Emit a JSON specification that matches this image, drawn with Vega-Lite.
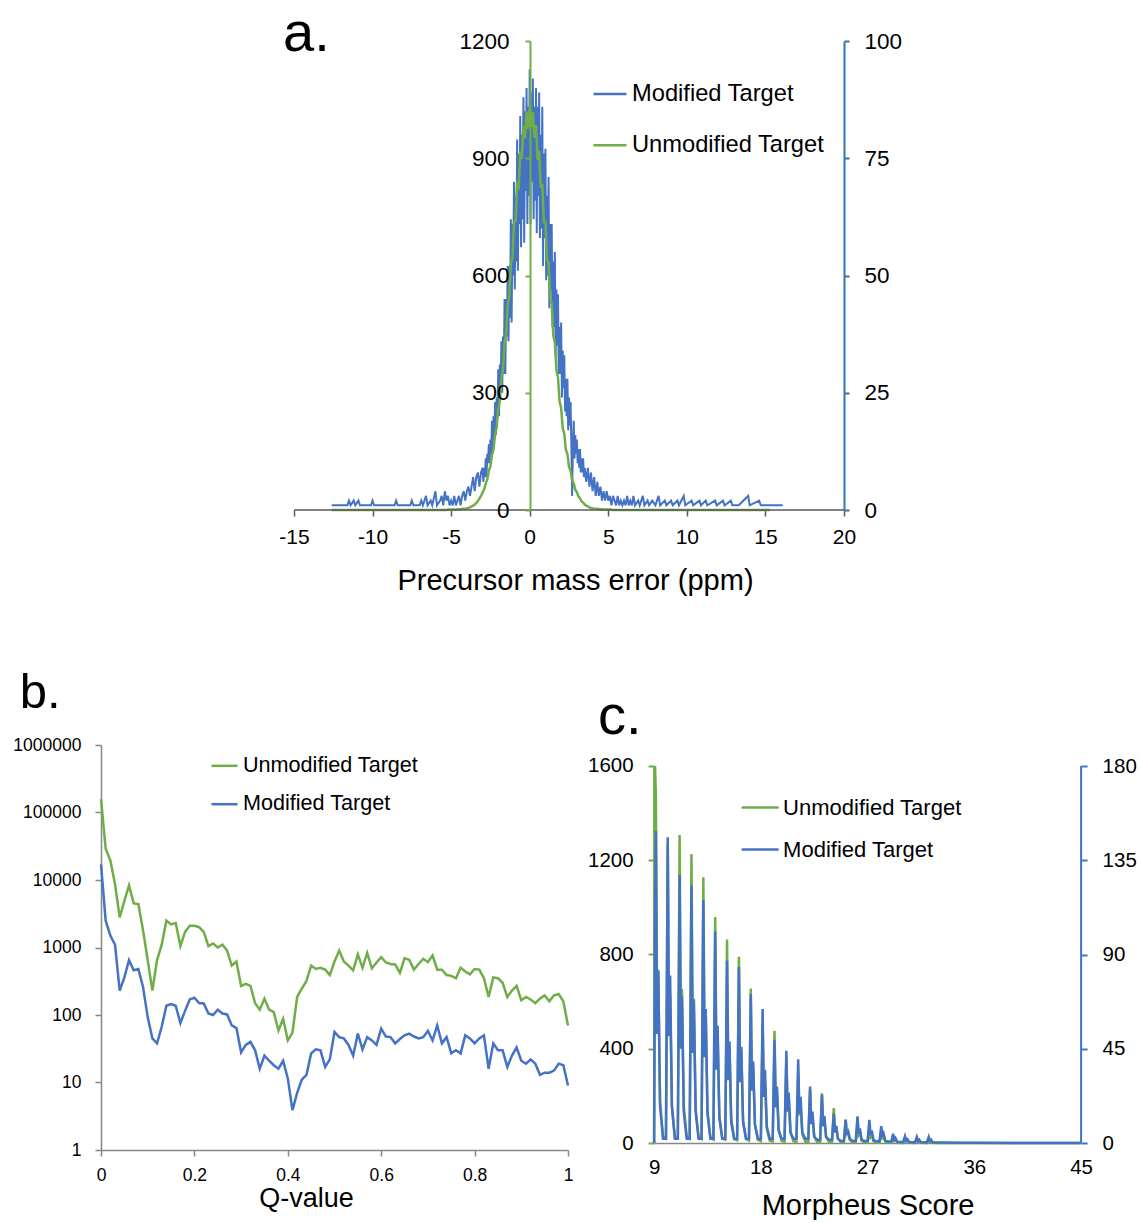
{
  "padding": {"left": 12, "top": 6, "right": 0, "bottom": 0},
  "background": "white",
  "config": {
    "locale": {"number": {"decimal": ".", "thousands": ",", "grouping": [3], "currency": ["$", ""], "minus": "-"}},
    "view": {"stroke": null},
    "font": "Liberation Sans",
    "axis": {"grid": false, "labelFont": "Liberation Sans", "titleFont": "Liberation Sans", "labelColor": "black", "titleColor": "black", "titleFontWeight": "normal"},
    "legend": {"labelFont": "Liberation Sans", "labelColor": "black", "labelLimit": 400},
    "title": {"font": "Liberation Sans", "fontWeight": "normal", "color": "black"}
  },
  "spacing": 74,
  "resolve": {"scale": {"color": "independent"}, "legend": {"color": "independent"}},
  "vconcat": [
    {
      "width": 743,
      "height": 469,
      "title": {"text": "a.", "anchor": "start", "frame": "group", "dx": 182, "fontSize": 56, "offset": -33.25},
      "data": {"values": [
        {"x":-12.6,"u":0,"m":1},{"x":-11.6,"u":0,"m":1},{"x":-11.5,"u":0,"m":2},{"x":-11.4,"u":0,"m":1},{"x":-11.2,"u":0,"m":2},{"x":-11.1,"u":0,"m":1},{"x":-10.9,"u":0,"m":2},{"x":-10.8,"u":0,"m":1},{"x":-10.1,"u":0,"m":1},{"x":-10,"u":0,"m":2},{"x":-9.9,"u":0,"m":1},{"x":-8.6,"u":0,"m":1},{"x":-8.5,"u":0,"m":2},{"x":-8.4,"u":0,"m":1},{"x":-7.6,"u":0,"m":1},{"x":-7.5,"u":0,"m":2},{"x":-7.4,"u":0,"m":1},{"x":-7,"u":0,"m":1},{"x":-6.9,"u":0,"m":2},{"x":-6.8,"u":0,"m":1},{"x":-6.6,"u":0,"m":3},{"x":-6.5,"u":0,"m":1},{"x":-6.3,"u":0,"m":2},{"x":-6.2,"u":0,"m":1},{"x":-6,"u":0,"m":4},{"x":-5.9,"u":0,"m":1},{"x":-5.7,"u":0,"m":2},{"x":-5.6,"u":0,"m":3},{"x":-5.5,"u":0,"m":1},{"x":-5.4,"u":0,"m":4},{"x":-5.3,"u":0,"m":2},{"x":-5.2,"u":1,"m":3},{"x":-5.1,"u":1,"m":1},
        {"x":-5,"u":1,"m":2},{"x":-4.9,"u":1,"m":1},{"x":-4.8,"u":1,"m":3},{"x":-4.7,"u":1,"m":1},{"x":-4.6,"u":2,"m":2},{"x":-4.5,"u":2,"m":3},{"x":-4.4,"u":2,"m":1},{"x":-4.3,"u":3,"m":3},{"x":-4.2,"u":3,"m":4},{"x":-4.1,"u":3,"m":2},
        {"x":-4,"u":4,"m":4},{"x":-3.9,"u":5,"m":5},{"x":-3.8,"u":7,"m":3},{"x":-3.7,"u":9,"m":5},{"x":-3.6,"u":11,"m":7},{"x":-3.5,"u":14,"m":4},{"x":-3.4,"u":18,"m":7},{"x":-3.3,"u":23,"m":8},{"x":-3.2,"u":29,"m":5},{"x":-3.1,"u":36,"m":8},
        {"x":-3,"u":45,"m":9},{"x":-2.95,"m":6},{"x":-2.9,"u":53,"m":9},{"x":-2.85,"m":7},{"x":-2.8,"u":67,"m":11},{"x":-2.75,"m":7},{"x":-2.7,"u":78,"m":12},{"x":-2.65,"m":10},{"x":-2.6,"u":100,"m":14},{"x":-2.55,"m":10},
        {"x":-2.5,"u":112,"m":15},{"x":-2.45,"m":12},{"x":-2.4,"u":141,"m":19},{"x":-2.35,"m":12},{"x":-2.3,"u":156,"m":20},{"x":-2.25,"m":16},{"x":-2.2,"u":194,"m":23},{"x":-2.15,"m":16},{"x":-2.1,"u":212,"m":24},{"x":-2.05,"m":20},
        {"x":-2,"u":260,"m":30},{"x":-1.95,"m":20},{"x":-1.9,"u":280,"m":31},{"x":-1.85,"m":25},{"x":-1.8,"u":338,"m":36},{"x":-1.75,"m":25},{"x":-1.7,"u":360,"m":37},{"x":-1.65,"m":29},{"x":-1.6,"u":427,"m":45},{"x":-1.55,"m":29},
        {"x":-1.5,"u":449,"m":45},{"x":-1.45,"m":37},{"x":-1.4,"u":526,"m":52},{"x":-1.35,"m":36},{"x":-1.3,"u":544,"m":52},{"x":-1.25,"m":41},{"x":-1.2,"u":631,"m":62},{"x":-1.15,"m":40},{"x":-1.1,"u":644,"m":61},{"x":-1.05,"m":50},
        {"x":-1,"u":735,"m":70},{"x":-0.95,"m":47},{"x":-0.9,"u":739,"m":67},{"x":-0.85,"m":53},{"x":-0.8,"u":833,"m":79},{"x":-0.75,"m":51},{"x":-0.7,"u":826,"m":76},{"x":-0.65,"m":61},{"x":-0.6,"u":917,"m":84},{"x":-0.55,"m":56},
        {"x":-0.5,"u":898,"m":80},{"x":-0.45,"m":62},{"x":-0.4,"u":983,"m":88},{"x":-0.35,"m":57},{"x":-0.3,"u":950,"m":85},{"x":-0.25,"m":68},{"x":-0.2,"u":1020,"m":90},{"x":-0.15,"m":61},{"x":-0.1,"u":976,"m":86},{"x":-0.05,"m":67},
        {"x":0,"u":1030,"m":94},{"x":0.05,"m":61},{"x":0.1,"u":980,"m":89},{"x":0.15,"m":70},{"x":0.2,"u":1018,"m":92},{"x":0.25,"m":62},{"x":0.3,"u":952,"m":86},{"x":0.35,"m":66},{"x":0.4,"u":985,"m":90},{"x":0.45,"m":59},
        {"x":0.5,"u":896,"m":86},{"x":0.55,"m":67},{"x":0.6,"u":919,"m":89},{"x":0.65,"m":58},{"x":0.7,"u":824,"m":80},{"x":0.75,"m":60},{"x":0.8,"u":835,"m":86},{"x":0.85,"m":52},{"x":0.9,"u":737,"m":76},{"x":0.95,"m":58},
        {"x":1,"u":737,"m":77},{"x":1.05,"m":49},{"x":1.1,"u":642,"m":67},{"x":1.15,"m":50},{"x":1.2,"u":633,"m":71},{"x":1.25,"m":43},{"x":1.3,"u":542,"m":61},{"x":1.35,"m":47},{"x":1.4,"u":528,"m":61},{"x":1.45,"m":39},
        {"x":1.5,"u":447,"m":53},{"x":1.55,"m":39},{"x":1.6,"u":429,"m":55},{"x":1.65,"m":33},{"x":1.7,"u":358,"m":47},{"x":1.75,"m":35},{"x":1.8,"u":340,"m":46},{"x":1.85,"m":29},{"x":1.9,"u":278,"m":39},{"x":1.95,"m":29},
        {"x":2,"u":262,"m":40},{"x":2.05,"m":24},{"x":2.1,"u":210,"m":34},{"x":2.15,"m":26},{"x":2.2,"u":196,"m":33},{"x":2.25,"m":21},{"x":2.3,"u":154,"m":28},{"x":2.35,"m":20},{"x":2.4,"u":143,"m":28},{"x":2.45,"m":17},
        {"x":2.5,"u":110,"m":24},{"x":2.55,"m":18},{"x":2.6,"u":101,"m":23},{"x":2.65,"m":14},{"x":2.7,"u":77,"m":3},{"x":2.75,"m":14},{"x":2.8,"u":68,"m":19},{"x":2.85,"m":11},{"x":2.9,"u":52,"m":16},{"x":2.95,"m":12},
        {"x":3,"u":46,"m":15},{"x":3.05,"m":10},{"x":3.1,"u":35,"m":13},{"x":3.15,"m":9},{"x":3.2,"u":30,"m":13},{"x":3.25,"m":8},{"x":3.3,"u":22,"m":11},{"x":3.35,"m":8},{"x":3.4,"u":19,"m":11},{"x":3.45,"m":7},{"x":3.5,"u":14,"m":9},
        {"x":3.6,"u":11,"m":6},{"x":3.7,"u":9,"m":9},{"x":3.8,"u":7,"m":5},{"x":3.9,"u":5,"m":8},{"x":4,"u":4,"m":4},{"x":4.1,"u":3,"m":7},{"x":4.2,"u":3,"m":3},{"x":4.3,"u":3,"m":6},{"x":4.4,"u":2,"m":3},{"x":4.5,"u":2,"m":5},
        {"x":4.6,"u":2,"m":2},{"x":4.7,"u":1,"m":4},{"x":4.8,"u":1,"m":2},{"x":4.9,"u":1,"m":4},{"x":5,"u":1,"m":2},{"x":5.1,"u":1,"m":3},{"x":5.2,"u":1,"m":1},{"x":5.3,"u":0,"m":3},{"x":5.4,"u":0,"m":2},{"x":5.5,"u":0,"m":1},
        {"x":5.6,"u":0,"m":3},{"x":5.7,"u":0,"m":1},{"x":5.8,"u":0,"m":2},{"x":5.9,"u":0,"m":1},{"x":6,"u":0,"m":2},
        {"x":6.1,"u":0,"m":1},{"x":6.2,"u":0,"m":3},{"x":6.3,"u":0,"m":1},{"x":6.4,"u":0,"m":2},{"x":6.5,"u":0,"m":1},{"x":6.6,"u":0,"m":3},{"x":6.7,"u":0,"m":1},{"x":6.9,"u":0,"m":2},{"x":7,"u":0,"m":1},{"x":7.2,"u":0,"m":3},{"x":7.3,"u":0,"m":1},{"x":7.5,"u":0,"m":2},{"x":7.6,"u":0,"m":1},{"x":7.8,"u":0,"m":2},{"x":8,"u":0,"m":1},{"x":8.2,"u":0,"m":3},{"x":8.3,"u":0,"m":1},{"x":8.6,"u":0,"m":2},{"x":8.7,"u":0,"m":1},{"x":9,"u":0,"m":2},{"x":9.1,"u":0,"m":1},{"x":9.4,"u":0,"m":2},{"x":9.5,"u":0,"m":1},{"x":9.8,"u":0,"m":3},{"x":9.9,"u":0,"m":1},{"x":10.3,"u":0,"m":2},{"x":10.4,"u":0,"m":1},{"x":10.8,"u":0,"m":2},{"x":10.9,"u":0,"m":1},{"x":11.2,"u":0,"m":2},{"x":11.3,"u":0,"m":1},{"x":11.8,"u":0,"m":2},{"x":11.9,"u":0,"m":1},{"x":12.3,"u":0,"m":2},{"x":12.4,"u":0,"m":1},{"x":12.8,"u":0,"m":2},{"x":12.9,"u":0,"m":1},{"x":13.3,"u":0,"m":1},{"x":13.9,"u":0,"m":3},{"x":14,"u":0,"m":1},{"x":14.6,"u":0,"m":2},{"x":14.7,"u":0,"m":1},{"x":15.3,"u":0,"m":1},{"x":16.1,"m":1}
      ]},
      "encoding": {
        "x": {"field": "x", "type": "quantitative", "scale": {"domain": [-27.28, 20], "nice": false, "zero": false},
          "axis": {"values": [-15,-10,-5,0,5,10,15,20], "format": "d", "domain": false, "tickColor": "#595959", "tickWidth": 1.5, "tickSize": 6, "labelFontSize": 21, "labelPadding": 10, "labelFlush": false, "labelOverlap": false, "title": "Precursor mass error (ppm)", "titleFontSize": 29, "titleX": 474, "titlePadding": 19, "grid": false}}
      },
      "layer": [
        {
          "mark": {"type": "line", "strokeWidth": 2, "invalid": "filter"},
          "encoding": {
            "y": {"field": "m", "type": "quantitative", "scale": {"domain": [0, 100], "nice": false},
              "axis": {"orient": "right", "values": [0,25,50,75,100], "format": "d", "domainColor": "#2E75B6", "domainWidth": 2, "tickColor": "#2E75B6", "tickWidth": 2, "tickSize": 5, "labelFontSize": 22.5, "labelPadding": 15, "labelFlush": false, "labelOverlap": false, "title": null, "grid": false}},
            "color": {"datum": "Modified Target", "scale": {"domain": ["Modified Target", "Unmodified Target"], "range": ["#4472C4", "#70AD47"]},
              "legend": {"orient": "none", "legendX": 491, "legendY": 35, "title": null, "symbolType": "stroke", "symbolSize": 1089, "symbolStrokeWidth": 2.5, "labelFontSize": 23.7, "labelOffset": 4, "rowPadding": 21.2, "padding": 0}}
          }
        },
        {
          "layer": [
            {
              "mark": {"type": "line", "strokeWidth": 2.5, "invalid": "filter"},
              "encoding": {
                "y": {"field": "u", "type": "quantitative", "scale": {"domain": [0, 1200], "nice": false},
                  "axis": {"orient": "left", "offset": -429, "values": [0,300,600,900,1200], "format": "d", "domainColor": "#70AD47", "domainWidth": 2, "tickColor": "#70AD47", "tickWidth": 2, "tickSize": 5, "labelFontSize": 22.5, "labelPadding": 16, "labelFlush": false, "labelOverlap": false, "title": null, "grid": false, "zindex": 1}},
                "color": {"datum": "Unmodified Target"}
              }
            },
            {
              "data": {"values": [{"x": -15, "xe": 20, "u": 0}]},
              "mark": {"type": "rule", "color": "#595959", "strokeWidth": 1.5},
              "encoding": {"x2": {"field": "xe"}, "y": {"field": "u", "type": "quantitative"}}
            }
          ]
        }
      ],
      "resolve": {"scale": {"y": "independent"}}
    },
    {
      "spacing": 14.1,
      "resolve": {"scale": {"color": "independent"}, "legend": {"color": "independent"}},
      "hconcat": [
        {
          "width": 467,
          "height": 405,
          "title": {"text": "b.", "anchor": "start", "frame": "bounds", "dx": 7, "fontSize": 49, "offset": 18},
          "data": {"values": [
            {"q":0,"u":158000,"m":17000},{"q":0.01,"u":29000,"m":2500},{"q":0.02,"u":19500,"m":1500},{"q":0.03,"u":8700,"m":1100},{"q":0.04,"u":2800,"m":230},{"q":0.05,"u":4900,"m":360},{"q":0.06,"u":8300,"m":650},{"q":0.07,"u":4500,"m":460},{"q":0.08,"u":4400,"m":480},{"q":0.09,"u":1800,"m":260},
            {"q":0.1,"u":650,"m":93},{"q":0.11,"u":230,"m":45},{"q":0.12,"u":650,"m":38},{"q":0.13,"u":1100,"m":67},{"q":0.14,"u":2500,"m":137},{"q":0.15,"u":2200,"m":145},{"q":0.16,"u":2300,"m":137},{"q":0.17,"u":1050,"m":76},{"q":0.18,"u":1700,"m":115},{"q":0.19,"u":2100,"m":170},
            {"q":0.2,"u":2100,"m":180},{"q":0.21,"u":2000,"m":150},{"q":0.22,"u":1700,"m":148},{"q":0.23,"u":1050,"m":105},{"q":0.24,"u":1150,"m":100},{"q":0.25,"u":1000,"m":120},{"q":0.26,"u":1100,"m":105},{"q":0.27,"u":900,"m":102},{"q":0.28,"u":540,"m":70},{"q":0.29,"u":620,"m":64},
            {"q":0.3,"u":270,"m":28},{"q":0.31,"u":290,"m":36},{"q":0.32,"u":270,"m":40},{"q":0.33,"u":150,"m":30},{"q":0.34,"u":120,"m":16},{"q":0.35,"u":175,"m":25},{"q":0.36,"u":120,"m":21},{"q":0.37,"u":110,"m":18},{"q":0.38,"u":59,"m":16},{"q":0.39,"u":88,"m":21},
            {"q":0.4,"u":42,"m":11.5},{"q":0.41,"u":55,"m":3.9},{"q":0.42,"u":185,"m":7},{"q":0.43,"u":245,"m":11},{"q":0.44,"u":320,"m":13},{"q":0.45,"u":540,"m":27},{"q":0.46,"u":480,"m":31},{"q":0.47,"u":500,"m":30},{"q":0.48,"u":470,"m":17},{"q":0.49,"u":390,"m":22},
            {"q":0.5,"u":620,"m":56},{"q":0.51,"u":900,"m":47},{"q":0.52,"u":620,"m":45},{"q":0.53,"u":540,"m":36},{"q":0.54,"u":460,"m":25},{"q":0.55,"u":790,"m":53},{"q":0.56,"u":500,"m":31},{"q":0.57,"u":830,"m":47},{"q":0.58,"u":490,"m":42},{"q":0.59,"u":600,"m":36},
            {"q":0.6,"u":720,"m":63},{"q":0.61,"u":600,"m":48},{"q":0.62,"u":570,"m":47},{"q":0.63,"u":560,"m":38},{"q":0.64,"u":420,"m":44},{"q":0.65,"u":690,"m":50},{"q":0.66,"u":660,"m":53},{"q":0.67,"u":470,"m":48},{"q":0.68,"u":570,"m":45},{"q":0.69,"u":680,"m":47},
            {"q":0.7,"u":610,"m":58},{"q":0.71,"u":760,"m":42},{"q":0.72,"u":470,"m":70},{"q":0.73,"u":470,"m":38},{"q":0.74,"u":390,"m":47},{"q":0.75,"u":380,"m":27},{"q":0.76,"u":350,"m":30},{"q":0.77,"u":500,"m":27},{"q":0.78,"u":440,"m":50},{"q":0.79,"u":400,"m":45},
            {"q":0.8,"u":480,"m":38},{"q":0.81,"u":470,"m":45},{"q":0.82,"u":350,"m":50},{"q":0.83,"u":185,"m":16},{"q":0.84,"u":360,"m":38},{"q":0.85,"u":350,"m":30},{"q":0.86,"u":300,"m":30},{"q":0.87,"u":185,"m":17},{"q":0.88,"u":230,"m":25},{"q":0.89,"u":270,"m":33},
            {"q":0.9,"u":165,"m":21},{"q":0.91,"u":185,"m":19},{"q":0.92,"u":170,"m":22},{"q":0.93,"u":150,"m":19},{"q":0.94,"u":175,"m":13},{"q":0.95,"u":195,"m":14},{"q":0.96,"u":160,"m":14},{"q":0.97,"u":195,"m":15},{"q":0.98,"u":205,"m":19},{"q":0.99,"u":160,"m":18},{"q":1,"u":70,"m":9}
          ]},
          "encoding": {
            "x": {"field": "q", "type": "quantitative", "scale": {"domain": [0, 1], "nice": false},
              "axis": {"values": [0,0.2,0.4,0.6,0.8,1], "format": "~g", "domainColor": "#868686", "domainWidth": 1.5, "tickColor": "#868686", "tickWidth": 1.5, "tickSize": 6, "labelFontSize": 17.5, "labelPadding": 10, "labelFlush": false, "labelOverlap": false, "title": "Q-value", "titleFontSize": 27, "titleX": 205, "titlePadding": 1.5, "grid": false}}
          },
          "layer": [
            {
              "mark": {"type": "line", "strokeWidth": 2.5},
              "encoding": {
                "y": {"field": "u", "type": "quantitative", "scale": {"type": "log", "domain": [1, 1000000], "nice": false},
                  "axis": {"values": [1,10,100,1000,10000,100000,1000000], "format": "d", "domainColor": "#868686", "domainWidth": 1.5, "tickColor": "#868686", "tickWidth": 1.5, "tickSize": 6, "labelFontSize": 17.5, "labelPadding": 14, "labelFlush": false, "labelOverlap": false, "title": null, "grid": false}},
                "color": {"datum": "Unmodified Target", "scale": {"domain": ["Unmodified Target", "Modified Target"], "range": ["#70AD47", "#4472C4"]},
                  "legend": {"orient": "none", "legendX": 109, "legendY": 6.3, "title": null, "symbolType": "stroke", "symbolSize": 676, "symbolStrokeWidth": 2.5, "labelFontSize": 21.6, "labelOffset": 4, "rowPadding": 12.4, "padding": 0}}
              }
            },
            {
              "mark": {"type": "line", "strokeWidth": 2.5},
              "encoding": {
                "y": {"field": "m", "type": "quantitative"},
                "color": {"datum": "Modified Target"}
              }
            }
          ]
        },
        {
          "width": 427,
          "height": 398,
          "title": {"text": "c.", "anchor": "start", "frame": "group", "dx": -56, "fontSize": 56, "offset": -0.8},
          "data": {"values": [
            {"x":9,"u":0,"m":0},{"x":9.08,"u":1600,"m":110},{"x":9.15,"u":1470,"m":149},{"x":9.25,"u":590,"m":52},{"x":9.35,"u":735,"m":82},{"x":9.5,"u":176,"m":18},{"x":9.75,"u":29,"m":2},
            {"x":10,"u":20,"m":2},{"x":10.15,"u":1270,"m":146},{"x":10.25,"u":508,"m":51},{"x":10.35,"u":635,"m":80},{"x":10.5,"u":152,"m":18},{"x":10.75,"u":25,"m":2},
            {"x":11,"u":20,"m":2},{"x":11.15,"u":1307,"m":128},{"x":11.25,"u":523,"m":45},{"x":11.35,"u":654,"m":70},{"x":11.5,"u":157,"m":15},{"x":11.75,"u":26,"m":2},
            {"x":12,"u":18,"m":2},{"x":12.15,"u":1226,"m":123},{"x":12.25,"u":490,"m":43},{"x":12.35,"u":613,"m":68},{"x":12.5,"u":147,"m":15},{"x":12.75,"u":25,"m":2},
            {"x":13,"u":17,"m":2},{"x":13.15,"u":1128,"m":116},{"x":13.25,"u":451,"m":41},{"x":13.35,"u":564,"m":64},{"x":13.5,"u":135,"m":14},{"x":13.75,"u":23,"m":2},
            {"x":14,"u":15,"m":2},{"x":14.15,"u":959,"m":101},{"x":14.25,"u":384,"m":35},{"x":14.35,"u":480,"m":56},{"x":14.5,"u":115,"m":12},{"x":14.75,"u":19,"m":2},
            {"x":15,"u":14,"m":2},{"x":15.15,"u":864,"m":87},{"x":15.25,"u":346,"m":30},{"x":15.35,"u":432,"m":48},{"x":15.5,"u":104,"m":10},{"x":15.75,"u":17,"m":2},
            {"x":16,"u":12,"m":2},{"x":16.15,"u":790,"m":84},{"x":16.25,"u":316,"m":29},{"x":16.35,"u":395,"m":46},{"x":16.5,"u":95,"m":10},{"x":16.75,"u":16,"m":2},
            {"x":17,"u":10,"m":2},{"x":17.15,"u":656,"m":71},{"x":17.25,"u":262,"m":25},{"x":17.35,"u":328,"m":39},{"x":17.5,"u":79,"m":9},{"x":17.75,"u":13,"m":2},
            {"x":18,"u":8,"m":2},{"x":18.15,"u":500,"m":64},{"x":18.25,"u":200,"m":22},{"x":18.35,"u":250,"m":35},{"x":18.5,"u":60,"m":8},{"x":18.75,"u":10,"m":2},
            {"x":19,"u":7,"m":2},{"x":19.15,"u":476,"m":49},{"x":19.25,"u":190,"m":17},{"x":19.35,"u":238,"m":27},{"x":19.5,"u":57,"m":6},{"x":19.75,"u":9,"m":2},
            {"x":20,"u":6,"m":2},{"x":20.15,"u":367,"m":44},{"x":20.25,"u":147,"m":15},{"x":20.35,"u":184,"m":24},{"x":20.5,"u":44,"m":5},{"x":20.75,"u":7,"m":2},
            {"x":21,"u":5,"m":2},{"x":21.15,"u":296,"m":40},{"x":21.25,"u":118,"m":14},{"x":21.35,"u":148,"m":22},{"x":21.5,"u":36,"m":5},{"x":21.75,"u":6,"m":2},
            {"x":22,"u":4,"m":2},{"x":22.15,"u":225,"m":27},{"x":22.25,"u":90,"m":9},{"x":22.35,"u":113,"m":15},{"x":22.5,"u":27,"m":3},{"x":22.75,"u":4,"m":1.5},
            {"x":23,"u":3,"m":1.5},{"x":23.15,"u":211,"m":23},{"x":23.25,"u":84,"m":8},{"x":23.35,"u":106,"m":13},{"x":23.5,"u":25,"m":3},{"x":23.75,"u":4,"m":1.5},
            {"x":24,"u":3,"m":1.5},{"x":24.15,"u":148,"m":14},{"x":24.25,"u":59,"m":5},{"x":24.35,"u":74,"m":8},{"x":24.5,"u":18,"m":2},{"x":24.75,"u":3,"m":1},
            {"x":25,"u":2,"m":1},{"x":25.15,"u":99,"m":11},{"x":25.25,"u":40,"m":4},{"x":25.35,"u":50,"m":6},{"x":25.5,"u":12,"m":2},{"x":25.75,"u":2,"m":1},
            {"x":26,"u":2,"m":1},{"x":26.15,"u":85,"m":12.7},{"x":26.25,"u":34,"m":4.4},{"x":26.35,"u":43,"m":7},{"x":26.5,"u":10,"m":1.5},{"x":26.75,"u":2,"m":1},
            {"x":27,"u":1,"m":1},{"x":27.15,"u":63,"m":11},{"x":27.25,"u":25,"m":3.9},{"x":27.35,"u":32,"m":6},{"x":27.5,"u":8,"m":1.3},{"x":27.75,"u":1,"m":0.8},
            {"x":28,"u":1,"m":0.8},{"x":28.15,"u":49,"m":8},{"x":28.25,"u":20,"m":2.8},{"x":28.35,"u":25,"m":4.4},{"x":28.5,"u":6,"m":1},{"x":28.75,"u":1,"m":0.7},
            {"x":29,"u":1,"m":0.7},{"x":29.15,"u":28,"m":4.3},{"x":29.25,"u":11,"m":1.5},{"x":29.35,"u":14,"m":2.4},{"x":29.5,"u":3,"m":0.6},{"x":29.75,"u":0,"m":0.5},
            {"x":30,"u":0,"m":0.5},{"x":30.15,"u":21,"m":3.2},{"x":30.25,"u":8,"m":1.1},{"x":30.35,"u":10,"m":1.8},{"x":30.5,"u":2,"m":0.5},{"x":30.75,"u":0,"m":0.4},
            {"x":31,"u":0,"m":0.4},{"x":31.15,"u":14,"m":2.9},{"x":31.25,"u":6,"m":1},{"x":31.35,"u":7,"m":1.6},{"x":31.5,"u":2,"m":0.4},{"x":31.75,"u":0,"m":0.3},
            {"x":32,"u":0,"m":0.3},{"x":32.15,"u":11,"m":2.9},{"x":32.25,"u":4,"m":1},{"x":32.35,"u":5,"m":1.6},{"x":32.5,"u":1,"m":0.3},{"x":32.75,"u":0,"m":0.2},
            {"x":33.5,"u":0,"m":0.2},{"x":34.5,"u":0,"m":0.1},{"x":36,"u":0,"m":0.1},{"x":40,"u":0,"m":0},{"x":45,"u":0,"m":0}
          ]},
          "encoding": {
            "x": {"field": "x", "type": "quantitative", "scale": {"domain": [9, 45], "nice": false, "zero": false},
              "axis": {"values": [9,18,27,36,45], "format": "d", "domainColor": "#868686", "domainWidth": 1.5, "ticks": false, "tickSize": 0, "labelFontSize": 20.5, "labelPadding": 14.5, "labelFlush": false, "labelOverlap": false, "title": "Morpheus Score", "titleFontSize": 29, "titlePadding": 13, "grid": false}}
          },
          "layer": [
            {
              "layer": [
                {
                  "mark": {"type": "line", "strokeWidth": 2.5},
                  "encoding": {
                    "y": {"field": "u", "type": "quantitative", "scale": {"domain": [0, 1689.1], "nice": false},
                      "axis": {"orient": "left", "values": [0,400,800,1200,1600], "format": "d", "domain": false, "tickColor": "#70AD47", "tickWidth": 2, "tickSize": 6, "labelFontSize": 20.5, "labelPadding": 15, "labelFlush": false, "labelOverlap": false, "title": null, "grid": false}},
                    "color": {"datum": "Unmodified Target", "scale": {"domain": ["Unmodified Target", "Modified Target"], "range": ["#70AD47", "#4472C4"]},
                      "legend": {"orient": "none", "legendX": 86, "legendY": 42.5, "title": null, "symbolType": "stroke", "symbolSize": 1369, "symbolStrokeWidth": 2.5, "labelFontSize": 22, "labelOffset": 3, "rowPadding": 11, "padding": 0}}
                  }
                },
                {
                  "data": {"values": [{"x": 9, "u": 0, "ue": 1600}]},
                  "mark": {"type": "rule", "color": "#70AD47", "strokeWidth": 2},
                  "encoding": {"y": {"field": "u", "type": "quantitative"}, "y2": {"field": "ue"}}
                }
              ]
            },
            {
              "layer": [
                {
                  "mark": {"type": "line", "strokeWidth": 2.5},
                  "encoding": {
                    "y": {"field": "m", "type": "quantitative", "scale": {"domain": [0, 190.03], "nice": false},
                      "axis": {"orient": "right", "values": [0,45,90,135,180], "format": "d", "domain": false, "tickColor": "#4472C4", "tickWidth": 2, "tickSize": 6, "labelFontSize": 20.5, "labelPadding": 15, "labelFlush": false, "labelOverlap": false, "title": null, "grid": false}},
                    "color": {"datum": "Modified Target"}
                  }
                },
                {
                  "data": {"values": [{"x": 45, "m": 0, "me": 180}]},
                  "mark": {"type": "rule", "color": "#4472C4", "strokeWidth": 2},
                  "encoding": {"y": {"field": "m", "type": "quantitative"}, "y2": {"field": "me"}}
                }
              ]
            }
          ],
          "resolve": {"scale": {"y": "independent"}}
        }
      ]
    }
  ]
}
